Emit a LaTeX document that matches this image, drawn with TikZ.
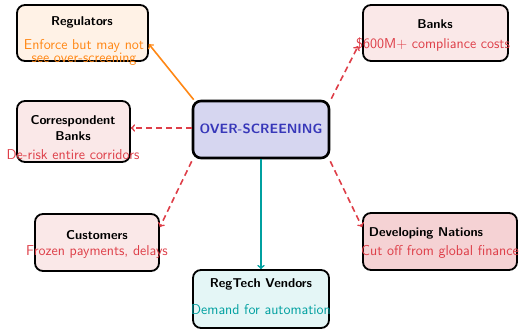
\documentclass[tikz,border=0pt]{standalone}
\usetikzlibrary{calc}
\definecolor{warnorange}{RGB}{255,135,20}
\definecolor{riskred}{RGB}{222,62,72}
\definecolor{techteal}{RGB}{0,160,160}
\definecolor{corefill}{RGB}{214,214,240}
\definecolor{coretext}{RGB}{55,55,185}
\definecolor{regfill}{RGB}{255,242,230}
\definecolor{bankfill}{RGB}{250,232,232}
\definecolor{devfill}{RGB}{245,210,212}
\definecolor{techfill}{RGB}{228,246,246}
\tikzset{
  boxframe/.style={draw=black, line width=1.8pt, rounded corners=8pt, inner sep=0pt},
  titletext/.style={font=\sffamily\bfseries\fontsize{12.8}{15.5}\selectfont, align=center, inner sep=0pt},
  notetext/.style={font=\sffamily\fontsize{14.3}{12}\selectfont, align=center, inner sep=0pt},
  link/.style={line width=1.6pt, ->},
  risklink/.style={link, draw=riskred, dash pattern=on 6pt off 4pt},
}
\begin{document}
\begin{tikzpicture}[x=1pt,y=-1pt]
\useasboundingbox (0,0) rectangle (520,329);

% boxes
\node[boxframe, fill=regfill, minimum width=131pt, minimum height=56pt] (reg) at (82.5,33) {};
\node[boxframe, fill=bankfill, minimum width=145pt, minimum height=56pt] (bank) at (435.5,33) {};
\node[boxframe, fill=bankfill, minimum width=113pt, minimum height=61pt] (corr) at (73.5,131.5) {};
\node[boxframe, fill=corefill, line width=2.6pt, minimum width=136pt, minimum height=57pt] (core) at (261,129.5) {};
\node[boxframe, fill=bankfill, minimum width=124pt, minimum height=57pt] (cust) at (97,242.5) {};
\node[boxframe, fill=devfill, minimum width=154pt, minimum height=57pt] (dev) at (440,241.5) {};
\node[boxframe, fill=techfill, minimum width=136pt, minimum height=58pt] (tech) at (261,299) {};

% titles
\node[titletext] (regT) at (82,22) {Regulators};
\node[titletext] (bankT) at (435,24) {Banks};
\node[titletext] (corrT) at (73,128) {Correspondent\\Banks};
\node[titletext, text=coretext, font=\sffamily\bfseries\fontsize{13.4}{15}\selectfont] (coreT) at (261,129) {OVER-SCREENING};
\node[titletext] (custT) at (97,235) {Customers};
\node[titletext] (devT) at (426,233) {Developing Nations};
\node[titletext] (techT) at (261,284) {RegTech Vendors};

% notes
\node[notetext, text=warnorange, font=\sffamily\fontsize{14.3}{11.5}\selectfont] (regN) at (84,52.5) {Enforce but may not\\see over-screening};
\node[notetext, text=riskred] (bankN) at (433,45) {\$600M+ compliance costs};
\node[notetext, text=riskred] (corrN) at (73,155) {De-risk entire corridors};
\node[notetext, text=riskred] (custN) at (97,252) {Frozen payments, delays};
\node[notetext, text=riskred] (devN) at (440,252) {Cut off from global finance};
\node[notetext, text=techteal] (techN) at (261,310) {Demand for automation};

% connectors
\coordinate (regTip) at ($(reg.north east)+(0,40)$);
\coordinate (bankTip) at ($(bank.north west)+(-4,42)$);
\coordinate (custTip) at ($(cust.north east)+(0,14)$);
\coordinate (devTip) at ($(dev.north west)+(0,15)$);
\coordinate (coreNW) at ($(core.north west)+(2,0)$);
\coordinate (coreNE) at ($(core.north east)+(1,-1)$);
\coordinate (coreSW) at ($(core.south west)+(0,2)$);
\coordinate (coreSE) at ($(core.south east)+(0,2)$);
\coordinate (coreW) at ($(core.west)+(0,-1.5)$);

\draw[link, draw=warnorange] (coreNW) -- (regTip);
\draw[risklink] (coreW) -- (corr.east |- coreW);
\draw[risklink] (coreNE) -- (bankTip);
\draw[risklink] (coreSW) -- (custTip);
\draw[risklink] (coreSE) -- (devTip);
\draw[link, draw=techteal] (core.south) -- (tech.north);
\end{tikzpicture}
\end{document}
